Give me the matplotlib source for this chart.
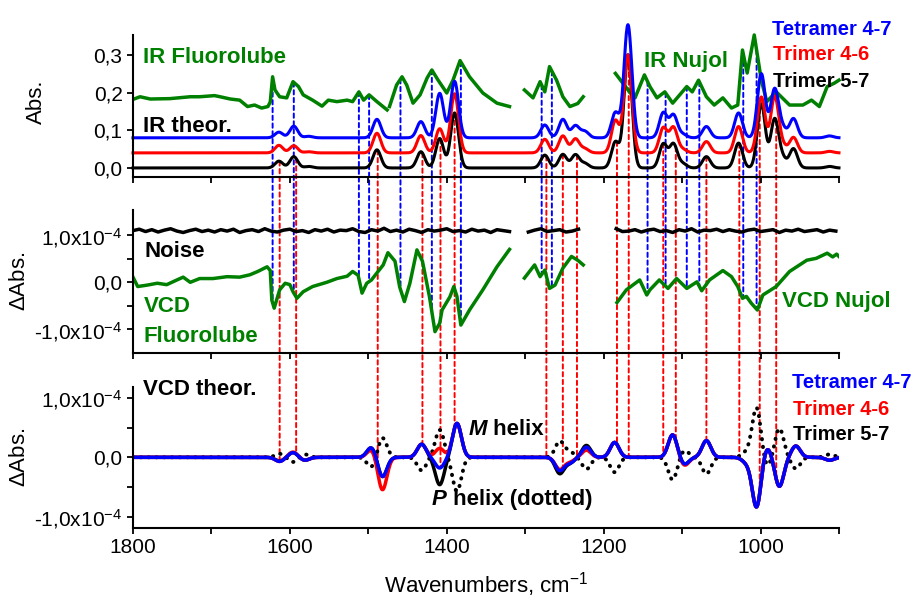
import numpy as np
import matplotlib
matplotlib.use('Agg')
import matplotlib.pyplot as plt
from matplotlib.patches import ConnectionPatch

plt.rcParams['font.family'] = 'Liberation Sans'
plt.rcParams['mathtext.fontset'] = 'custom'
plt.rcParams['mathtext.rm'] = 'Liberation Sans'
plt.rcParams['mathtext.it'] = 'Liberation Sans:italic'
plt.rcParams['mathtext.bf'] = 'Liberation Sans:bold'

BLUE, RED, GREEN = '#0000ff', '#ff0000', '#008000'
nan = np.nan

# ---- experimental IR (absorbance), nan = no data
ir_fluor_wn = [1800, 1791, 1778, 1753, 1727, 1715, 1696, 1689, 1676, 1664, 1654, 1645, 1636, 1628,
               1625, 1622, 1619, 1613, 1604, 1596, 1589, 1583, 1571, 1559, 1551, 1540, 1527, 1520,
               1512, 1506, 1499, 1489, 1476, 1474.5,
               1473, 1464, 1457, 1451, 1443, 1434, 1425, 1419, 1411, 1400, 1392, 1383, 1371, 1354,
               1336, 1320]
ir_fluor_abs = [0.182, 0.189, 0.183, 0.184, 0.189, 0.189, 0.192, 0.189, 0.183, 0.180, 0.163, 0.167, 0.159, 0.163,
                0.175, 0.242, 0.207, 0.189, 0.186, 0.229, 0.216, 0.194, 0.180, 0.164, 0.180, 0.176, 0.180, 0.176,
                0.202, 0.180, 0.194, 0.176, 0.154, nan,
                0.163, 0.220, 0.242, 0.220, 0.172, 0.194, 0.239, 0.260, 0.233, 0.199, 0.233, 0.285, 0.242, 0.199,
                0.172, 0.163]
ir_nujol_wn = [1301, 1290, 1281, 1275, 1269, 1260, 1252, 1243, 1233, 1226, 1205,
               1185, 1166, 1160, 1148, 1141, 1132, 1122, 1112, 1094, 1087, 1079, 1069, 1059, 1048,
               1037, 1029, 1023, 1017, 1008, 999, 992, 980, 963, 946, 935, 925, 915, 906, 900]
ir_nujol_abs = [0.207, 0.186, 0.229, 0.202, 0.269, 0.233, 0.189, 0.163, 0.171, 0.189, nan,
                0.251, 0.199, 0.186, 0.247, 0.216, 0.186, 0.202, 0.172, 0.216, 0.202, 0.233, 0.189, 0.167, 0.186,
                0.159, 0.167, 0.313, 0.252, 0.353, 0.233, 0.176, 0.202, 0.167, 0.167, 0.180, 0.163, 0.216, 0.225, 0.233]

# ---- calculated IR bands (cm-1, absorbance)
ir_pos = [1614, 1595, 1576, 1489, 1433, 1409, 1390, 1275, 1252, 1236, 1224, 1185, 1169,
          1124, 1111, 1099, 1069, 1028, 999, 982, 972, 958, 912]
ir_tetramer47 = [0.015, 0.031, 0.004, 0.049, 0.043, 0.118, 0.150, 0.034, 0.049, 0.032, 0.017, 0.067, 0.300,
                 0.066, 0.060, 0.009, 0.030, 0.066, 0.170, 0.128, 0.024, 0.051, 0.005]
ir_trimer46 = [0.020, 0.019, 0.003, 0.052, 0.046, 0.064, 0.157, 0.036, 0.045, 0.037, 0.011, 0.086, 0.260,
               0.066, 0.067, 0.009, 0.030, 0.070, 0.148, 0.148, 0.019, 0.041, 0.004]
ir_trimer57 = [0.018, 0.030, 0.004, 0.048, 0.043, 0.078, 0.146, 0.034, 0.036, 0.035, 0.012, 0.069, 0.300,
               0.063, 0.063, 0.011, 0.030, 0.066, 0.170, 0.128, 0.024, 0.051, 0.004]
ir_offsets = [0.08, 0.04, 0.0]

# ---- experimental VCD (1e-4 units)
vcd_fluor_wn = [1800, 1794, 1782, 1769, 1757, 1744, 1736, 1727, 1715, 1698, 1680, 1664, 1651, 1641,
                1629, 1625, 1623, 1620, 1613, 1606, 1600, 1596, 1591, 1583, 1571, 1553, 1540, 1527,
                1520, 1513, 1508, 1502, 1496, 1489, 1481, 1475, 1469, 1466, 1460, 1454, 1447, 1438,
                1431, 1422, 1415, 1409, 1406, 1396, 1391, 1387, 1382, 1371, 1354, 1336, 1320]
vcd_fluor_val = [0.11, -0.09, -0.06, -0.02, -0.05, 0.05, 0.11, 0.00, 0.08, 0.08, 0.12, 0.11, 0.16, 0.23,
                 0.33, 0.25, -0.38, -0.55, -0.16, -0.02, -0.05, -0.20, -0.34, -0.20, -0.09, 0.00, 0.08, 0.13,
                 0.23, 0.15, -0.23, -0.02, 0.05, 0.20, 0.37, 0.63, 0.51, 0.45, -0.10, -0.41, -0.02, 0.69,
                 0.45, -0.31, -1.05, -0.87, -0.59, -0.31, -0.09, -0.30, -0.91, -0.59, -0.16, 0.33, 0.70]
vcd_nujol_wn = [1301, 1288, 1281, 1275, 1269, 1262, 1252, 1241, 1233, 1226, 1205,
                1183, 1171, 1154, 1145, 1141, 1129, 1118, 1107, 1094, 1081, 1075, 1065, 1048, 1037,
                1029, 1023, 1018, 1012, 1004, 997, 980, 963, 941, 929, 915, 908, 903, 900]
vcd_nujol_val = [0.09, 0.37, 0.12, 0.26, -0.13, -0.06, 0.30, 0.55, 0.47, 0.37, nan,
                 -0.43, -0.16, 0.05, -0.27, -0.16, 0.05, -0.13, 0.08, -0.13, 0.01, -0.18, 0.05, 0.25, 0.12,
                 -0.09, -0.34, -0.30, -0.44, -0.59, -0.27, -0.09, 0.23, 0.47, 0.51, 0.62, 0.54, 0.60, 0.55]

# noise level, one value every 8 cm-1 from 1800 down
noise_val = [1.10, 1.13, 1.08, 1.12, 1.07, 1.11, 1.14, 1.09, 1.06, 1.10, 1.13, 1.08, 1.11, 1.07, 1.12, 1.09, 1.13, 1.06, 1.10, 1.12,
             1.08, 1.14, 1.09, 1.07, 1.11, 1.13, 1.08, 1.10, 1.06, 1.12, 1.09, 1.13, 1.07, 1.11, 1.10, 1.14, 1.08, 1.06, 1.12, 1.09,
             1.15, 1.08, 1.11, 1.07, 1.13, 1.10, 1.06, 1.12, 1.09, 1.11, 1.14, 1.08, 1.10, 1.07, 1.13, 1.09, 1.11, 1.06, 1.12, 1.10,
             1.08, 1.13, 1.09, 1.07, 1.11, 1.14, 1.08, 1.10, 1.12, 1.07, 1.09, 1.13, 1.08, 1.11, 1.06, 1.12, 1.10, 1.14, 1.08, 1.09,
             1.12, 1.07, 1.11, 1.13, 1.08, 1.10, 1.06, 1.12, 1.09, 1.14, 1.07, 1.11, 1.10, 1.13, 1.08, 1.12, 1.09, 1.07, 1.11, 1.13,
             1.08, 1.10, 1.12, 1.06, 1.11, 1.09, 1.13, 1.08, 1.10, 1.12, 1.07, 1.11, 1.09]
noise_gaps = [(1318, 1302), (1226, 1184)]

# ---- calculated VCD bands (cm-1, 1e-4 units)
vcd_pos = [1613, 1596, 1581, 1496, 1482, 1432, 1409, 1387, 1256, 1243, 1222, 1186,
           1112, 1097, 1069, 1018, 1005, 992, 976, 955, 912]
vcd_tetramer47 = [-0.07, 0.08, -0.05, 0.17, -0.33, 0.22, -0.18, 0.57, -0.22, -0.09, 0.17, 0.25,
                  0.38, -0.12, 0.28, -0.08, -0.84, 0.18, -0.49, 0.19, -0.05]
vcd_trimer46 = [-0.07, 0.09, -0.05, 0.13, -0.55, 0.22, 0.15, 0.57, -0.20, -0.07, 0.12, 0.25,
                0.38, -0.14, 0.28, -0.08, -0.84, 0.18, -0.49, 0.19, -0.05]
vcd_trimer57 = [-0.06, 0.08, -0.05, 0.17, -0.33, 0.22, -0.46, 0.57, -0.27, -0.09, 0.20, 0.25,
                0.38, -0.12, 0.28, -0.08, -0.84, 0.18, -0.49, 0.19, -0.05]

# band assignments linking the panels
exp_guides = [1622, 1595, 1512, 1499, 1459, 1419, 1382, 1279, 1266, 1144, 1121, 1094, 1078, 1022, 1005]
calc_guides = [1613, 1592, 1488, 1431, 1408, 1390, 1273, 1252, 1234, 1183, 1168, 1124, 1108, 1069,
               1027, 1001, 980]


def gauss_sum(x, centers, heights, sigma):
    c = np.asarray(centers, float)[:, None]
    h = np.asarray(heights, float)[:, None]
    return (h * np.exp(-0.5 * ((x[None, :] - c) / sigma) ** 2)).sum(axis=0)


def interp_curve(w, xs, ys):
    xs = np.asarray(xs, float)
    ys = np.asarray(ys, float)
    ok = ~np.isnan(ys)
    return np.interp(w, xs[ok][::-1], ys[ok][::-1])


wn = np.linspace(1800, 900, 1801)

fig = plt.figure(figsize=(9.14, 6.03), dpi=100)
L, W = 0.1455, 0.7724
ax1 = fig.add_axes([L, 0.7065, W, 0.2355])
ax2 = fig.add_axes([L, 0.4146, W, 0.2371])
ax3 = fig.add_axes([L, 0.1244, W, 0.2338])

for ax in (ax1, ax2, ax3):
    ax.set_facecolor('none')
    ax.spines['top'].set_visible(False)
    ax.spines['right'].set_visible(False)
    for s in ('left', 'bottom'):
        ax.spines[s].set_linewidth(1.5)
    ax.set_xlim(1800, 900)
    ax.set_xticks([1800, 1600, 1400, 1200, 1000])
    ax.set_xticks([1700, 1500, 1300, 1100, 900], minor=True)
    ax.tick_params(axis='both', which='both', direction='out', length=4.5, width=1.3,
                   labelsize=15, pad=3)
    ax.tick_params(axis='x', which='both', labelbottom=False)

# top: IR absorbance
ax1.set_ylim(-0.024, 0.353)
ax1.set_yticks([0, 0.1, 0.2, 0.3], labels=['0,0', '0,1', '0,2', '0,3'])
ax1.plot(ir_fluor_wn, ir_fluor_abs, color=GREEN, lw=2.5)
ax1.plot(ir_nujol_wn, ir_nujol_abs, color=GREEN, lw=2.5, clip_on=False)
ir_calc = {}
for name, heights, off, col in (('k', ir_trimer57, ir_offsets[2], 'black'),
                                ('r', ir_trimer46, ir_offsets[1], RED),
                                ('b', ir_tetramer47, ir_offsets[0], BLUE)):
    ir_calc[name] = off + gauss_sum(wn, ir_pos, heights, 5.0)
    ax1.plot(wn, ir_calc[name], color=col, lw=2.2, clip_on=False)
ax1.set_ylabel('Abs.', fontsize=16)
ax1.yaxis.set_label_coords(-0.122, 0.53)

# middle: experimental VCD with noise
noise_wn = 1800 - 8 * np.arange(len(noise_val))
noise = np.array(noise_val, float)
for hi, lo in noise_gaps:
    noise[(noise_wn < hi) & (noise_wn > lo)] = nan
ax2.set_ylim(-1.504, 1.538)
ax2.set_yticks([-1, 0, 1], labels=['-1,0x10$^{-4}$', '0,0', '1,0x10$^{-4}$'])
ax2.set_yticks([-0.5, 0.5], minor=True)
ax2.plot(noise_wn, noise, color='black', lw=2.5)
ax2.plot(vcd_fluor_wn, vcd_fluor_val, color=GREEN, lw=2.5)
ax2.plot(vcd_nujol_wn, vcd_nujol_val, color=GREEN, lw=2.5)
ax2.set_ylabel(r'$\Delta$Abs.', fontsize=16)
ax2.yaxis.set_label_coords(-0.146, 0.5)

# bottom: calculated VCD, P helix drawn as the mirror image
vcd_k = gauss_sum(wn, vcd_pos, vcd_trimer57, 5.6)
vcd_r = gauss_sum(wn, vcd_pos, vcd_trimer46, 5.6)
vcd_b = gauss_sum(wn, vcd_pos, vcd_tetramer47, 5.6)
ax3.set_ylim(-1.188, 1.182)
ax3.set_yticks([-1, 0, 1], labels=['-1,0x10$^{-4}$', '0,0', '1,0x10$^{-4}$'])
ax3.set_yticks([-0.5, 0.5], minor=True)
ax3.plot(wn, -vcd_k, color='black', lw=2.8, ls=(0, (0.1, 1.9)), dash_capstyle='round')
ax3.plot(wn, vcd_k, color='black', lw=2.5)
ax3.plot(wn, vcd_r, color=RED, lw=2.5)
ax3.plot(wn, vcd_b, color=BLUE, lw=2.5)
ax3.tick_params(axis='x', which='major', labelbottom=True)
ax3.set_xlabel('Wavenumbers, cm$^{-1}$', fontsize=16, labelpad=9)
ax3.set_ylabel(r'$\Delta$Abs.', fontsize=16)
ax3.yaxis.set_label_coords(-0.146, 0.5)

# dotted assignment lines running between the panels
exp_ir_wn = ir_fluor_wn + ir_nujol_wn
exp_ir_val = ir_fluor_abs + ir_nujol_abs
exp_vcd_wn = vcd_fluor_wn + vcd_nujol_wn
exp_vcd_val = vcd_fluor_val + vcd_nujol_val
for w in exp_guides:
    con = ConnectionPatch(xyA=(w, interp_curve(w, exp_ir_wn, exp_ir_val)), coordsA='data', axesA=ax1,
                          xyB=(w, interp_curve(w, exp_vcd_wn, exp_vcd_val)), coordsB='data', axesB=ax2,
                          color=BLUE, lw=1.4, ls=(0, (2.2, 1.8)), zorder=-1)
    fig.add_artist(con)
for w in calc_guides:
    con = ConnectionPatch(xyA=(w, np.interp(w, wn[::-1], ir_calc['k'][::-1])), coordsA='data', axesA=ax1,
                          xyB=(w, np.interp(w, wn[::-1], vcd_b[::-1])), coordsB='data', axesB=ax3,
                          color=RED, lw=1.4, ls=(0, (2.2, 1.8)), zorder=-1)
    fig.add_artist(con)

# annotations
big = dict(fontsize=16, fontweight='bold')
leg = dict(fontsize=14.5, fontweight='bold')
fig.text(0.156, 0.8955, 'IR Fluorolube', color=GREEN, **big)
fig.text(0.156, 0.781, 'IR theor.', color='black', **big)
fig.text(0.705, 0.889, 'IR Nujol', color=GREEN, **big)
fig.text(0.845, 0.942, 'Tetramer 4-7', color=BLUE, **leg)
fig.text(0.846, 0.9005, 'Trimer 4-6', color=RED, **leg)
fig.text(0.846, 0.8557, 'Trimer 5-7', color='black', **leg)
fig.text(0.158, 0.5738, 'Noise', color='black', **big)
fig.text(0.157, 0.4826, 'VCD', color=GREEN, **big)
fig.text(0.157, 0.4328, 'Fluorolube', color=GREEN, **big)
fig.text(0.856, 0.491, 'VCD Nujol', color=GREEN, **big)
fig.text(0.156, 0.345, 'VCD theor.', color='black', **big)
fig.text(0.533, 0.2786, 'M', color='black', ha='right', fontstyle='italic', **big)
fig.text(0.533, 0.2786, ' helix', color='black', ha='left', **big)
fig.text(0.489, 0.1625, 'P', color='black', ha='right', fontstyle='italic', **big)
fig.text(0.489, 0.1625, ' helix (dotted)', color='black', ha='left', **big)
fig.text(0.867, 0.3566, 'Tetramer 4-7', color=BLUE, **leg)
fig.text(0.868, 0.3118, 'Trimer 4-6', color=RED, **leg)
fig.text(0.868, 0.2703, 'Trimer 5-7', color='black', **leg)

fig.savefig('out.png', dpi=100, facecolor='white')
